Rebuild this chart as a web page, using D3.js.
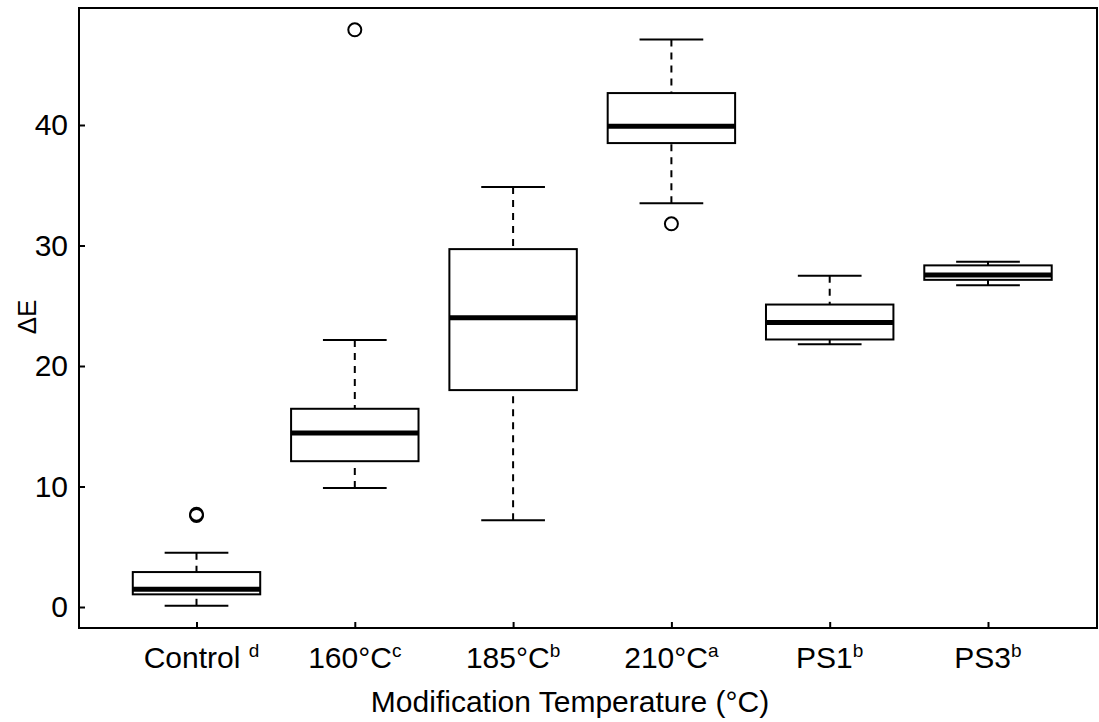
<!DOCTYPE html>
<html>
<head>
<meta charset="utf-8">
<script src="https://cdn.jsdelivr.net/npm/d3@7"></script>
<style>
  body { margin: 0; background: #fff; }
  svg { display: block; font-family: "Liberation Sans", Arial, sans-serif; }
</style>
</head>
<body>
<svg id="chart" width="1099" height="722"></svg>
<script>
const categories = ["Control", "160°C", "185°C", "210°C", "PS1", "PS3"];
const letters = ["d", "c", "b", "a", "b", "b"];
const whiskerLow = [0.1, 9.88, 7.2, 33.5, 21.8, 26.7];
const q1 = [1.05, 12.1, 18.0, 38.5, 22.2, 27.15];
const median = [1.47, 14.45, 24.0, 39.9, 23.6, 27.55];
const q3 = [2.9, 16.45, 29.7, 42.65, 25.1, 28.35];
const whiskerHigh = [4.5, 22.15, 34.85, 47.1, 27.5, 28.65];
const outliers = [[7.6, 7.7], [47.9], [], [31.8], [], []];
const yTicks = [0, 10, 20, 30, 40];

(function () {
const svg = d3.select("#chart");
const pLeft = 79, pRight = 1097, pTop = 8, pBottom = 628;

const x = d3.scalePoint().domain(categories).range([196.5, 988]);
const step = x.step();
const y = d3.scaleLinear().domain([0, 40]).range([607, 125]);

const boxW = step * 0.805;
const capW = boxW / 2;

svg.append("rect")
  .attr("x", pLeft).attr("y", pTop)
  .attr("width", pRight - pLeft).attr("height", pBottom - pTop)
  .attr("fill", "none").attr("stroke", "#000").attr("stroke-width", 2);

const yAxis = svg.append("g")
  .attr("transform", `translate(${pLeft},0)`)
  .call(d3.axisLeft(y).tickValues(yTicks).tickSizeInner(-6).tickSizeOuter(0).tickPadding(11));
yAxis.select(".domain").remove();
yAxis.selectAll(".tick line").attr("stroke-width", 2);
yAxis.selectAll(".tick text")
  .attr("font-size", 30).attr("fill", "#000")
  .attr("font-family", "Liberation Sans, Arial, sans-serif");

const xAxis = svg.append("g")
  .attr("transform", `translate(0,${pBottom})`)
  .call(d3.axisBottom(x).tickSizeInner(-6).tickSizeOuter(0).tickFormat(""));
xAxis.select(".domain").remove();
xAxis.selectAll(".tick line").attr("stroke-width", 2);

categories.forEach((c, i) => {
  const t = svg.append("text")
    .attr("x", x(c) + (i === 0 ? 5 : 0)).attr("y", 668)
    .attr("text-anchor", "middle")
    .attr("font-size", 30).attr("fill", "#000");
  t.append("tspan").text(c + (i === 0 ? " " : ""));
  t.append("tspan").attr("dy", -11).attr("font-size", 19).text(letters[i]);
});

svg.append("text")
  .attr("x", 570).attr("y", 712)
  .attr("text-anchor", "middle").attr("font-size", 30).attr("fill", "#000")
  .text("Modification Temperature (°C)");

svg.append("text")
  .attr("transform", `translate(36,${(y(20) - 49)}) rotate(-90)`)
  .attr("text-anchor", "middle").attr("font-size", 26).attr("fill", "#000")
  .text("ΔE");

const g = svg.append("g");
categories.forEach((c, i) => {
  const cx = x(c);
  g.append("line")
    .attr("x1", cx).attr("x2", cx)
    .attr("y1", y(whiskerHigh[i])).attr("y2", y(q3[i]))
    .attr("stroke", "#000").attr("stroke-width", 2).attr("stroke-dasharray", "7,6");
  g.append("line")
    .attr("x1", cx).attr("x2", cx)
    .attr("y1", y(whiskerLow[i])).attr("y2", y(q1[i]))
    .attr("stroke", "#000").attr("stroke-width", 2).attr("stroke-dasharray", "7,6");
  [whiskerHigh[i], whiskerLow[i]].forEach(v => {
    g.append("line")
      .attr("x1", cx - capW / 2).attr("x2", cx + capW / 2)
      .attr("y1", y(v)).attr("y2", y(v))
      .attr("stroke", "#000").attr("stroke-width", 2);
  });
  g.append("rect")
    .attr("x", cx - boxW / 2).attr("y", y(q3[i]))
    .attr("width", boxW).attr("height", y(q1[i]) - y(q3[i]))
    .attr("fill", "#fff").attr("stroke", "#000").attr("stroke-width", 2);
  g.append("line")
    .attr("x1", cx - boxW / 2).attr("x2", cx + boxW / 2)
    .attr("y1", y(median[i])).attr("y2", y(median[i]))
    .attr("stroke", "#000").attr("stroke-width", 5);
  outliers[i].forEach(v => {
    g.append("circle")
      .attr("cx", cx).attr("cy", y(v)).attr("r", 6.5)
      .attr("fill", "none").attr("stroke", "#000").attr("stroke-width", 2);
  });
});
})();
</script>
</body>
</html>
